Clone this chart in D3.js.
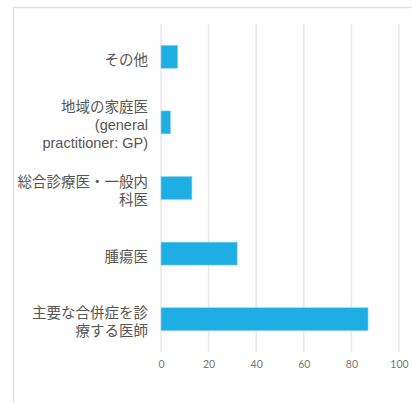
<!DOCTYPE html>
<html>
<head>
<meta charset="utf-8">
<script src="https://cdn.jsdelivr.net/npm/d3@7"></script>
<style>
  html, body { margin: 0; padding: 0; background: #fff; }
  svg { display: block; }
</style>
</head>
<body>
<svg id="chart" width="412" height="403"></svg>
<script>
// Category labels, top to bottom (line breaks as displayed)
const categories = [
  "その他",
  "地域の家庭医\n(general\npractitioner: GP)",
  "総合診療医・一般内\n科医",
  "腫瘍医",
  "主要な合併症を診\n療する医師"
];
// Bar values
const values = [7, 4, 13, 32, 87];
// Axis ticks
const tickValues = [0, 20, 40, 60, 80, 100];

const svg = d3.select("#chart");

// Card frame
svg.append("rect")
  .attr("x", 13.5).attr("y", 7.5)
  .attr("width", 420).attr("height", 420)
  .attr("fill", "#fff")
  .attr("stroke", "#e3e3e3")
  .attr("stroke-width", 1.5);

const x = d3.scaleLinear().domain([0, 100]).range([161, 399]);
const y = d3.scaleBand()
  .domain(categories)
  .range([24, 352])
  .paddingInner(0.65)
  .paddingOuter(0.325);

// Vertical gridlines
svg.append("g")
  .selectAll("line")
  .data(tickValues)
  .join("line")
  .attr("x1", d => x(d)).attr("x2", d => x(d))
  .attr("y1", 24).attr("y2", 352)
  .attr("stroke", "#e8e8e8")
  .attr("stroke-width", 1.5);

// Bottom axis labels
const xAxis = d3.axisBottom(x).tickValues(tickValues).tickSize(0).tickPadding(0);
const gx = svg.append("g").attr("transform", "translate(0,361)").call(xAxis);
gx.select(".domain").remove();
gx.selectAll("text")
  .attr("fill", "#777")
  .attr("font-family", "Lato, 'DejaVu Sans', sans-serif")
  .attr("font-size", "10.5px");

// Bars
svg.append("g")
  .selectAll("rect")
  .data(values)
  .join("rect")
  .attr("x", x(0))
  .attr("y", (d, i) => y(categories[i]))
  .attr("width", d => x(d) - x(0))
  .attr("height", y.bandwidth())
  .attr("fill", "#1eaee3")
  .attr("stroke", "#8fd6f1")
  .attr("stroke-width", 0.6);

// Category labels
const lineH = 18;
const labels = svg.append("g")
  .selectAll("text")
  .data(categories)
  .join("text")
  .attr("text-anchor", "end")
  .attr("fill", "#555")
  .attr("font-family", "'Liberation Sans', 'Noto Sans CJK JP', sans-serif")
  .attr("font-size", "14.5px");

labels.each(function(d) {
  const lines = d.split("\n");
  const cy = y(d) + y.bandwidth() / 2 + 3;
  const top = cy - (lines.length - 1) * lineH / 2;
  d3.select(this).selectAll("tspan")
    .data(lines)
    .join("tspan")
    .attr("x", 148)
    .attr("y", (l, j) => top + j * lineH)
    .attr("dy", "0.35em")
    .text(l => l);
});
</script>
</body>
</html>
